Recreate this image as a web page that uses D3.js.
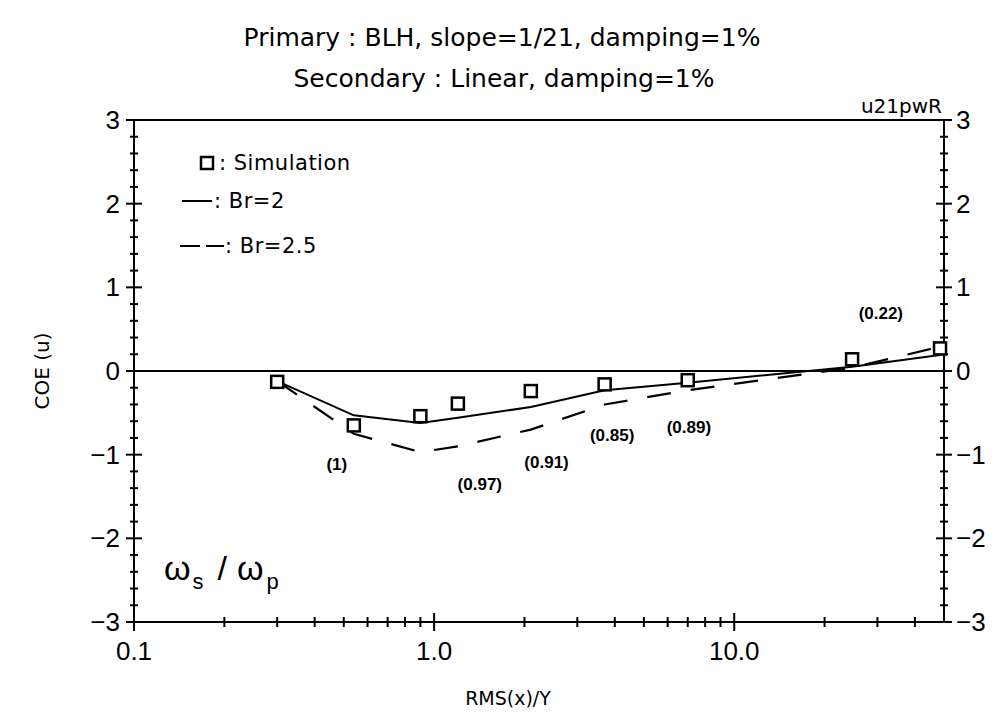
<!DOCTYPE html>
<html lang="en">

<head>
    <meta charset="UTF-8">
    <title>COE vs RMS(x)/Y</title>
    <script src="https://d3js.org/d3.v7.min.js"></script>
    <style>
        body { margin: 0; background: #fff; }
        text { font-family: "Liberation Sans", Arial, sans-serif; fill: #000; }
        .wide { font-family: "DejaVu Sans", sans-serif; }
    </style>
</head>

<body>
    <svg id="chart" width="1001" height="719"></svg>

    <script>
        // values
        const xValues = [0.3, 0.54, 0.9, 1.2, 2.1, 3.7, 7.0, 24.7, 48.5];
        const simulation = [-0.13, -0.65, -0.54, -0.39, -0.24, -0.16, -0.11, 0.14, 0.27];
        const br2 = [-0.12, -0.53, -0.62, -0.56, -0.43, -0.23, -0.14, 0.05, 0.19];
        const br25 = [-0.12, -0.75, -0.97, -0.90, -0.70, -0.40, -0.23, 0.04, 0.29];

        const ratioLabels = ["(1)", "(0.97)", "(0.91)", "(0.85)", "(0.89)", "(0.22)"];
        const ratioX = [0.474, 1.42, 2.37, 3.92, 7.06, 30.8];
        const ratioY = [-1.12, -1.36, -1.09, -0.77, -0.68, 0.69];

        const xMajor = [0.1, 1, 10];
        const xMajorLabels = ["0.1", "1.0", "10.0"];
        const xMinor = [0.2, 0.3, 0.4, 0.5, 0.6, 0.7, 0.8, 0.9, 2, 3, 4, 5, 6, 7, 8, 9, 20, 30, 40];
        const yMajor = [-3, -2, -1, 0, 1, 2, 3];

        const svg = d3.select("#chart");
        const margin = { top: 120, right: 57, bottom: 97, left: 134 };
        const width = +svg.attr("width");
        const height = +svg.attr("height");

        const x = d3.scaleLog().domain([0.1, 50]).range([margin.left, width - margin.right]);
        const y = d3.scaleLinear().domain([-3, 3]).range([height - margin.bottom, margin.top]);

        const x0 = x.range()[0], x1 = x.range()[1];
        const yb = y(-3), yt = y(3);

        // frame
        const frame = svg.append("g").attr("stroke", "#000").attr("stroke-width", 2);
        frame.append("line").attr("x1", x0).attr("x2", x1).attr("y1", yt).attr("y2", yt);
        frame.append("line").attr("x1", x0).attr("x2", x1).attr("y1", yb).attr("y2", yb);
        frame.append("line").attr("x1", x0).attr("x2", x0).attr("y1", yt).attr("y2", yb);
        frame.append("line").attr("x1", x1).attr("x2", x1).attr("y1", yt).attr("y2", yb);
        frame.append("line").attr("x1", x0).attr("x2", x1).attr("y1", y(0)).attr("y2", y(0));

        // y ticks on both sides, crossing the axis
        const yMinor = d3.range(-3, 3.01, 0.2).filter(v => Math.abs(v - Math.round(v)) > 0.01);
        [x0, x1].forEach(ax => {
            frame.selectAll(null).data(yMajor).join("line")
                .attr("x1", ax - 8).attr("x2", ax + 8)
                .attr("y1", d => y(d)).attr("y2", d => y(d));
            frame.selectAll(null).data(yMinor).join("line")
                .attr("x1", ax - 4).attr("x2", ax + 4)
                .attr("y1", d => y(d)).attr("y2", d => y(d));
        });

        // x ticks along the bottom
        frame.selectAll(null).data(xMajor).join("line")
            .attr("x1", d => x(d)).attr("x2", d => x(d))
            .attr("y1", yb - 9).attr("y2", yb + 9);
        frame.selectAll(null).data(xMinor).join("line")
            .attr("x1", d => x(d)).attr("x2", d => x(d))
            .attr("y1", yb - 5).attr("y2", yb + 5);

        // tick labels
        const fmt = d => d < 0 ? "\u2212" + Math.abs(d) : d;
        svg.selectAll(null).data(yMajor).join("text")
            .attr("x", x0 - 14).attr("y", d => y(d))
            .attr("text-anchor", "end").attr("dominant-baseline", "central")
            .style("font-size", "26px")
            .text(fmt);
        svg.selectAll(null).data(yMajor).join("text")
            .attr("x", x1 + 12).attr("y", d => y(d))
            .attr("text-anchor", "start").attr("dominant-baseline", "central")
            .style("font-size", "26px")
            .text(fmt);
        svg.selectAll(null).data(xMajor).join("text")
            .attr("x", d => x(d)).attr("y", yb + 38)
            .attr("text-anchor", "middle")
            .style("font-size", "26px")
            .text((d, i) => xMajorLabels[i]);

        // axis titles
        svg.append("text").attr("class", "wide")
            .attr("x", 508).attr("y", 705)
            .attr("text-anchor", "middle")
            .style("font-size", "19px")
            .text("RMS(x)/Y");
        svg.append("text").attr("class", "wide")
            .attr("transform", `translate(49,${y(0)}) rotate(-90)`)
            .attr("text-anchor", "middle")
            .style("font-size", "20px")
            .text("COE (u)");

        // titles
        svg.append("text").attr("class", "wide")
            .attr("x", 502).attr("y", 46)
            .attr("text-anchor", "middle")
            .style("font-size", "25px")
            .text("Primary : BLH, slope=1/21, damping=1%");
        svg.append("text").attr("class", "wide")
            .attr("x", 504).attr("y", 87)
            .attr("text-anchor", "middle")
            .style("font-size", "25px")
            .text("Secondary : Linear, damping=1%");
        svg.append("text").attr("class", "wide")
            .attr("x", x1 - 2).attr("y", 113)
            .attr("text-anchor", "end")
            .style("font-size", "20px")
            .text("u21pwR");

        // curves
        const line = d3.line().x(d => x(d[0])).y(d => y(d[1]));
        svg.append("path")
            .datum(d3.zip(xValues, br2))
            .attr("d", line)
            .attr("fill", "none").attr("stroke", "#000").attr("stroke-width", 2);
        svg.append("path")
            .datum(d3.zip(xValues, br25))
            .attr("d", line)
            .attr("fill", "none").attr("stroke", "#000").attr("stroke-width", 2.2)
            .attr("stroke-dasharray", "24,20");

        // simulation squares
        svg.selectAll(null).data(d3.zip(xValues, simulation)).join("rect")
            .attr("x", d => x(d[0]) - 6).attr("y", d => y(d[1]) - 6)
            .attr("width", 12).attr("height", 12)
            .attr("fill", "#fff").attr("stroke", "#000").attr("stroke-width", 2.5);

        // frequency ratio labels
        svg.selectAll(null).data(ratioLabels).join("text")
            .attr("x", (d, i) => x(ratioX[i])).attr("y", (d, i) => y(ratioY[i]))
            .attr("text-anchor", "middle").attr("dominant-baseline", "central")
            .style("font-size", "17px").style("font-weight", "bold")
            .text(d => d);

        // omega_s / omega_p
        const om = svg.append("text").attr("x", 164).attr("y", 580).style("font-size", "34px");
        om.append("tspan").text("\u03c9");
        om.append("tspan").attr("dy", 9).attr("dx", 2).style("font-size", "22px").text("s");
        om.append("tspan").attr("dy", -9).attr("dx", 14).text("/");
        om.append("tspan").attr("dx", 10).text("\u03c9");
        om.append("tspan").attr("dy", 9).attr("dx", 3).style("font-size", "22px").text("p");

        // legend
        const legend = svg.append("g");
        legend.append("rect").attr("x", 201).attr("y", 157).attr("width", 12).attr("height", 12)
            .attr("fill", "#fff").attr("stroke", "#000").attr("stroke-width", 2.5);
        legend.append("line").attr("x1", 182).attr("x2", 212).attr("y1", 201).attr("y2", 201)
            .attr("stroke", "#000").attr("stroke-width", 2);
        legend.append("line").attr("x1", 180).attr("x2", 224).attr("y1", 246).attr("y2", 246)
            .attr("stroke", "#000").attr("stroke-width", 2).attr("stroke-dasharray", "20,6");
        const legendText = [[219, 163, ": Simulation"], [214, 201, ": Br=2"], [225, 246, ": Br=2.5"]];
        legend.selectAll(null).data(legendText).join("text")
            .attr("class", "wide")
            .attr("x", d => d[0]).attr("y", d => d[1])
            .attr("dominant-baseline", "central")
            .style("font-size", "21px").style("letter-spacing", "0.5px")
            .text(d => d[2]);
    </script>
</body>

</html>
